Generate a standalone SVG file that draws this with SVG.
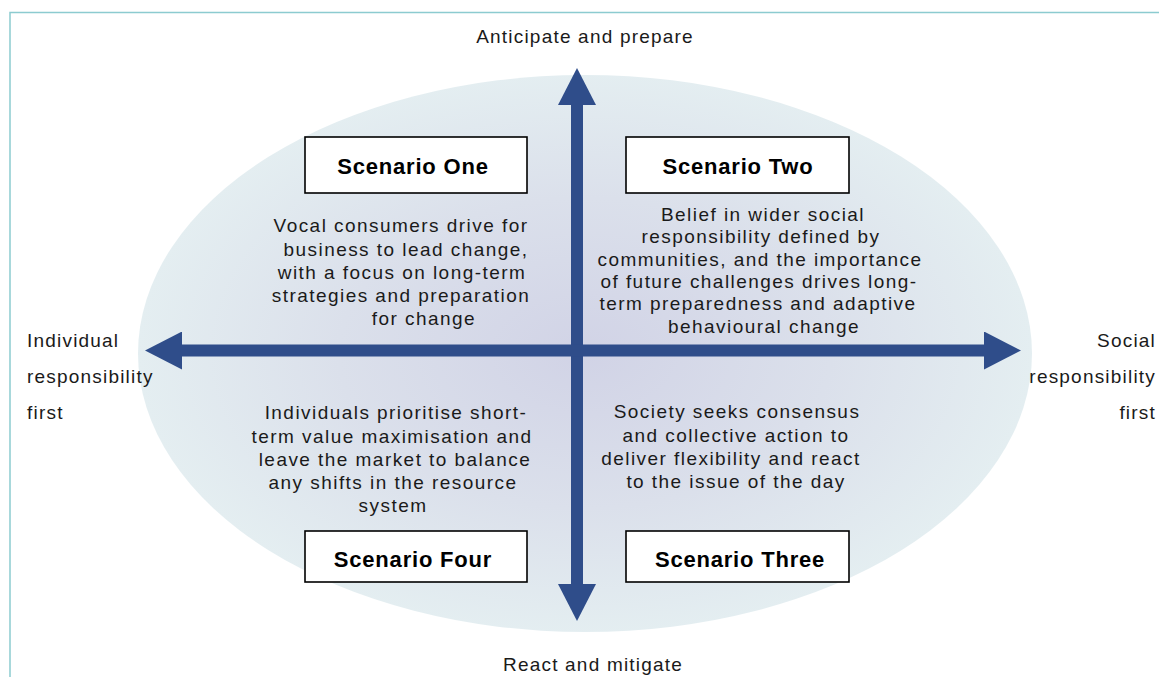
<svg xmlns="http://www.w3.org/2000/svg" width="1159" height="677" viewBox="0 0 1159 677">
  <defs>
    <radialGradient id="ellFill" cx="585" cy="353" r="447" gradientUnits="userSpaceOnUse" gradientTransform="translate(585 353) scale(1 0.63) translate(-585 -353)">
      <stop offset="0" stop-color="#d1d3e6"/>
      <stop offset="0.55" stop-color="#dbe0eb"/>
      <stop offset="1" stop-color="#e4eef1"/>
    </radialGradient>
    <marker id="head" markerUnits="userSpaceOnUse" markerWidth="38" markerHeight="38" viewBox="0 0 37 38" refX="1" refY="19" orient="auto-start-reverse">
      <path d="M0,0 L37,19 L0,38 Z" fill="#2f4d8a"/>
    </marker>
  </defs>
  <style>
    .frame { fill: none; stroke: #8ccbd0; stroke-width: 1.5; }
    .axis { stroke: #2f4d8a; stroke-width: 12; fill: none; }
    .box { fill: #ffffff; stroke: #000000; stroke-width: 1.6; }
    .title { font-family: "Liberation Sans", Arial, sans-serif; font-weight: bold; font-size: 22px; letter-spacing: 0.8px; fill: #000; text-anchor: middle; }
    .body { font-family: "Liberation Sans", Arial, sans-serif; font-size: 19px; letter-spacing: 1.45px; fill: #1a1a1a; text-anchor: middle; }
    .label { font-family: "Liberation Sans", Arial, sans-serif; font-size: 19px; letter-spacing: 1.2px; fill: #1a1a1a; }
  </style>

  <rect width="1159" height="677" fill="#ffffff"/>
  <path class="frame" d="M10,677 V12.5 H1159"/>

  <ellipse id="backdrop" cx="585" cy="353.5" rx="447" ry="278.5" fill="url(#ellFill)"/>

  <g id="connectors">
    <line class="axis" x1="577" y1="104" x2="577" y2="585" marker-start="url(#head)" marker-end="url(#head)"/>
    <line class="axis" x1="181" y1="350.5" x2="985" y2="350.5" marker-start="url(#head)" marker-end="url(#head)"/>
  </g>

  <g id="label-top">
    <text class="label" x="585" y="43" text-anchor="middle">Anticipate and prepare</text>
  </g>
  <g id="label-bottom">
    <text class="label" x="593" y="671" text-anchor="middle">React and mitigate</text>
  </g>
  <g id="label-left">
    <text class="label" x="27" y="347">Individual</text>
    <text class="label" x="27" y="383">responsibility</text>
    <text class="label" x="27" y="419">first</text>
  </g>
  <g id="label-right">
    <text class="label" x="1156" y="347" text-anchor="end">Social</text>
    <text class="label" x="1156" y="383" text-anchor="end">responsibility</text>
    <text class="label" x="1156" y="419" text-anchor="end">first</text>
  </g>

  <g id="scenario-one">
    <rect class="box" x="305" y="137" width="222" height="56"/>
    <text class="title" x="413" y="174">Scenario One</text>
    <text class="body" x="401" y="232">Vocal consumers drive for</text>
    <text class="body" x="406" y="255.5">business to lead change,</text>
    <text class="body" x="402" y="279">with a focus on long-term</text>
    <text class="body" x="401" y="302">strategies and preparation</text>
    <text class="body" x="424" y="325">for change</text>
  </g>

  <g id="scenario-two">
    <rect class="box" x="626" y="137" width="223" height="56"/>
    <text class="title" x="738" y="174">Scenario Two</text>
    <text class="body" x="763" y="220.5">Belief in wider social</text>
    <text class="body" x="761" y="243">responsibility defined by</text>
    <text class="body" x="760" y="265.5">communities, and the importance</text>
    <text class="body" x="759" y="288">of future challenges drives long-</text>
    <text class="body" x="758" y="310">term preparedness and adaptive</text>
    <text class="body" x="764" y="332.5">behavioural change</text>
  </g>

  <g id="scenario-four">
    <rect class="box" x="305" y="531" width="222" height="51"/>
    <text class="title" x="413" y="567">Scenario Four</text>
    <text class="body" x="396" y="419">Individuals prioritise short-</text>
    <text class="body" x="392" y="442.5">term value maximisation and</text>
    <text class="body" x="395" y="466">leave the market to balance</text>
    <text class="body" x="393" y="489">any shifts in the resource</text>
    <text class="body" x="393" y="512">system</text>
  </g>

  <g id="scenario-three">
    <rect class="box" x="626" y="531" width="223" height="51"/>
    <text class="title" x="740" y="567">Scenario Three</text>
    <text class="body" x="737" y="418">Society seeks consensus</text>
    <text class="body" x="736" y="441.5">and collective action to</text>
    <text class="body" x="731" y="465">deliver flexibility and react</text>
    <text class="body" x="736" y="488">to the issue of the day</text>
  </g>
</svg>
